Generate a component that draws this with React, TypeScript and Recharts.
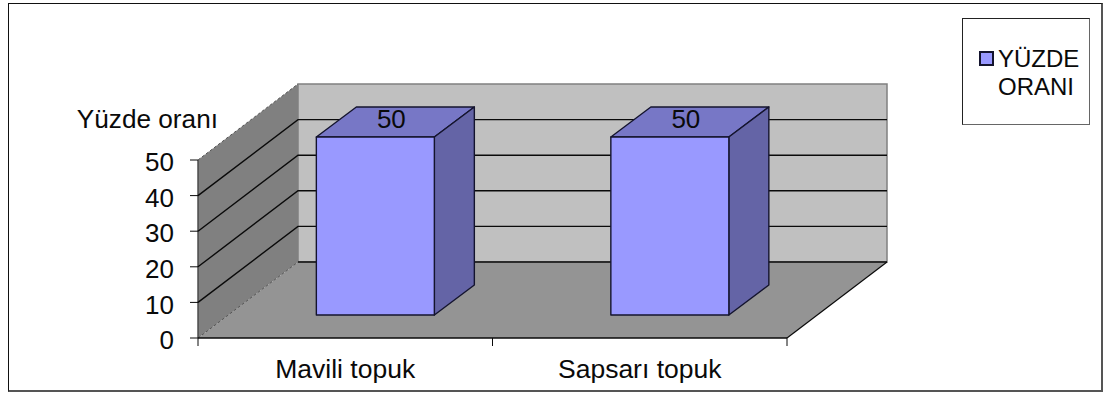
import { BarChart, Bar, XAxis, YAxis, CartesianGrid, Legend, LabelList } from "recharts";

const categories = ["Mavili topuk", "Sapsarı topuk"];
const percentages = [50, 50];
const yTicks = [0, 10, 20, 30, 40, 50];
const seriesName = "YÜZDE ORANI";
const yTitle = "Yüzde oranı";

const chartData = categories.map((name, i) => ({ name, value: percentages[i] }));

const FONT = "'Liberation Sans', Arial, sans-serif";
const INK = "#0a0a0a";
// depth of the fake 3D box, and of each bar inside it
const DEPTH_X = 100;
const DEPTH_Y = 76;
const BAR_SHIFT_X = 30;
const BAR_SHIFT_Y = 23;
const BAR_DEPTH_X = 40;
const BAR_DEPTH_Y = 30;

const pts = (list: number[][]) => list.map((p) => p.join(",")).join(" ");

function wallsLayer(props: any) {
  const { x, y, width, height, y1, key } = props;
  const bottom = y + height;
  if (Math.abs(y1 - bottom) > 0.5) return <g key={key} />;
  const right = x + width;
  return (
    <g key={key}>
      <polygon
        points={pts([[x + DEPTH_X, y - DEPTH_Y], [right + DEPTH_X, y - DEPTH_Y], [right + DEPTH_X, bottom - DEPTH_Y], [x + DEPTH_X, bottom - DEPTH_Y]])}
        fill="#c0c0c0"
        stroke="#808080"
        strokeWidth={1.5}
      />
      <polygon
        points={pts([[x, y], [x, bottom], [x + DEPTH_X, bottom - DEPTH_Y], [x + DEPTH_X, y - DEPTH_Y]])}
        fill="#808080"
      />
      <polygon
        points={pts([[x, bottom], [right, bottom], [right + DEPTH_X, bottom - DEPTH_Y], [x + DEPTH_X, bottom - DEPTH_Y]])}
        fill="#949494"
      />
      <line x1={x} y1={y} x2={x + DEPTH_X} y2={y - DEPTH_Y} stroke="#555" strokeDasharray="3 2" />
      <line x1={x} y1={bottom} x2={x + DEPTH_X} y2={bottom - DEPTH_Y} stroke="#555" strokeDasharray="3 2" />
      <line x1={right} y1={bottom} x2={right + DEPTH_X} y2={bottom - DEPTH_Y} stroke={INK} strokeWidth={1.2} />
      <line x1={x} y1={y} x2={x} y2={bottom} stroke="#444" strokeWidth={1.4} />
    </g>
  );
}

function gridLine(props: any) {
  const { x, y, width, height, y1, key } = props;
  const isTop = Math.abs(y1 - y) < 0.5;
  const isBottom = Math.abs(y1 - (y + height)) < 0.5;
  if (isTop) return <g key={key} />;
  const points = isBottom
    ? [[x + DEPTH_X, y1 - DEPTH_Y], [x + width + DEPTH_X, y1 - DEPTH_Y]]
    : [[x, y1], [x + DEPTH_X, y1 - DEPTH_Y], [x + width + DEPTH_X, y1 - DEPTH_Y]];
  return <polyline key={key} points={pts(points)} fill="none" stroke={INK} strokeWidth={1.4} />;
}

function Box3D(props: any) {
  const { x, y, width, height } = props;
  const left = x + BAR_SHIFT_X;
  const top = y - BAR_SHIFT_Y;
  const right = left + width;
  const bottom = top + height;
  const edge = { stroke: "#14142e", strokeWidth: 1.4, strokeLinejoin: "round" as const };
  return (
    <g>
      <polygon
        points={pts([[left, top], [right, top], [right + BAR_DEPTH_X, top - BAR_DEPTH_Y], [left + BAR_DEPTH_X, top - BAR_DEPTH_Y]])}
        fill="#7777c6"
        {...edge}
      />
      <polygon
        points={pts([[right, top], [right + BAR_DEPTH_X, top - BAR_DEPTH_Y], [right + BAR_DEPTH_X, bottom - BAR_DEPTH_Y], [right, bottom]])}
        fill="#6464a6"
        {...edge}
      />
      <rect x={left} y={top} width={width} height={height} fill="#9999ff" {...edge} />
    </g>
  );
}

function BarValue(props: any) {
  const { x, y, width, value } = props;
  return (
    <text x={x + width / 2 + 46} y={y - 32.5} textAnchor="middle" fontFamily={FONT} fontSize={26} fill={INK}>
      {value}
    </text>
  );
}

function CategoryTick(props: any) {
  const { x, y, payload, index, visibleTicksCount, width } = props;
  const band = width / visibleTicksCount;
  const axisY = y - 16;
  const last = index === visibleTicksCount - 1;
  return (
    <g>
      <line x1={x - band / 2} y1={axisY} x2={x - band / 2} y2={axisY + 8} stroke={INK} />
      {last && <line x1={x + band / 2} y1={axisY} x2={x + band / 2} y2={axisY + 8} stroke={INK} />}
      <text x={x} y={axisY + 40} textAnchor="middle" fontFamily={FONT} fontSize={26.5} fill={INK}>
        {payload.value}
      </text>
    </g>
  );
}

function YTitle(props: any) {
  const { viewBox } = props;
  return (
    <text
      x={viewBox.x + viewBox.width + 20}
      y={viewBox.y - 32}
      textAnchor="end"
      fontFamily={FONT}
      fontSize={26.2}
      fill={INK}
    >
      {yTitle}
    </text>
  );
}

function LegendBox() {
  return (
    <div
      style={{
        boxSizing: "border-box",
        width: 128,
        height: 107,
        border: "1px solid #222",
        borderRightColor: "#666",
        borderBottomColor: "#666",
        background: "#fff",
        position: "relative",
        fontFamily: FONT,
        fontSize: 24,
        lineHeight: "28px",
        color: INK,
      }}
    >
      <span
        style={{
          position: "absolute",
          left: 16,
          top: 32,
          width: 15,
          height: 15,
          boxSizing: "border-box",
          background: "#9999ff",
          border: "2px solid #14142e",
        }}
      />
      <div style={{ position: "absolute", left: 35, top: 26 }}>
        {seriesName.split(" ").map((word) => (
          <div key={word}>{word}</div>
        ))}
      </div>
    </div>
  );
}

export default function App() {
  return (
    <div style={{ position: "absolute", left: 0, top: 0, width: 1105, height: 394, background: "#fff" }}>
      <div
        style={{
          position: "absolute",
          left: 8,
          top: 3,
          width: 1095,
          height: 389,
          boxSizing: "border-box",
          borderTop: "1px solid #111",
          borderLeft: "1px solid #111",
          borderRight: "2px solid #555",
          borderBottom: "2px solid #555",
        }}
      />
      <BarChart
        width={1105}
        height={394}
        data={chartData}
        margin={{ top: 160, right: 190, bottom: 0, left: 138 }}
        barCategoryGap="30%"
        style={{ position: "absolute", left: 0, top: 0 }}
      >
        <CartesianGrid vertical={false} horizontal={wallsLayer} />
        <CartesianGrid vertical={false} horizontal={gridLine} />
        <XAxis
          dataKey="name"
          height={56}
          tickLine={false}
          tickSize={8}
          tickMargin={8}
          axisLine={{ stroke: INK, strokeWidth: 1.4 }}
          tick={CategoryTick}
          interval={0}
        />
        <YAxis
          width={60}
          domain={[0, 50]}
          ticks={yTicks}
          tickSize={8}
          tickMargin={16}
          axisLine={false}
          tickLine={{ stroke: INK }}
          tick={{ fontFamily: FONT, fontSize: 26, fill: INK, dy: 2 }}
          label={<YTitle />}
        />
        <Legend
          layout="vertical"
          verticalAlign="top"
          align="right"
          content={<LegendBox />}
          wrapperStyle={{ position: "absolute", left: 962, top: 18, width: 128, height: 107, margin: 0 }}
        />
        <Bar dataKey="value" name={seriesName} shape={Box3D} isAnimationActive={false}>
          <LabelList dataKey="value" content={BarValue} />
        </Bar>
      </BarChart>
    </div>
  );
}
